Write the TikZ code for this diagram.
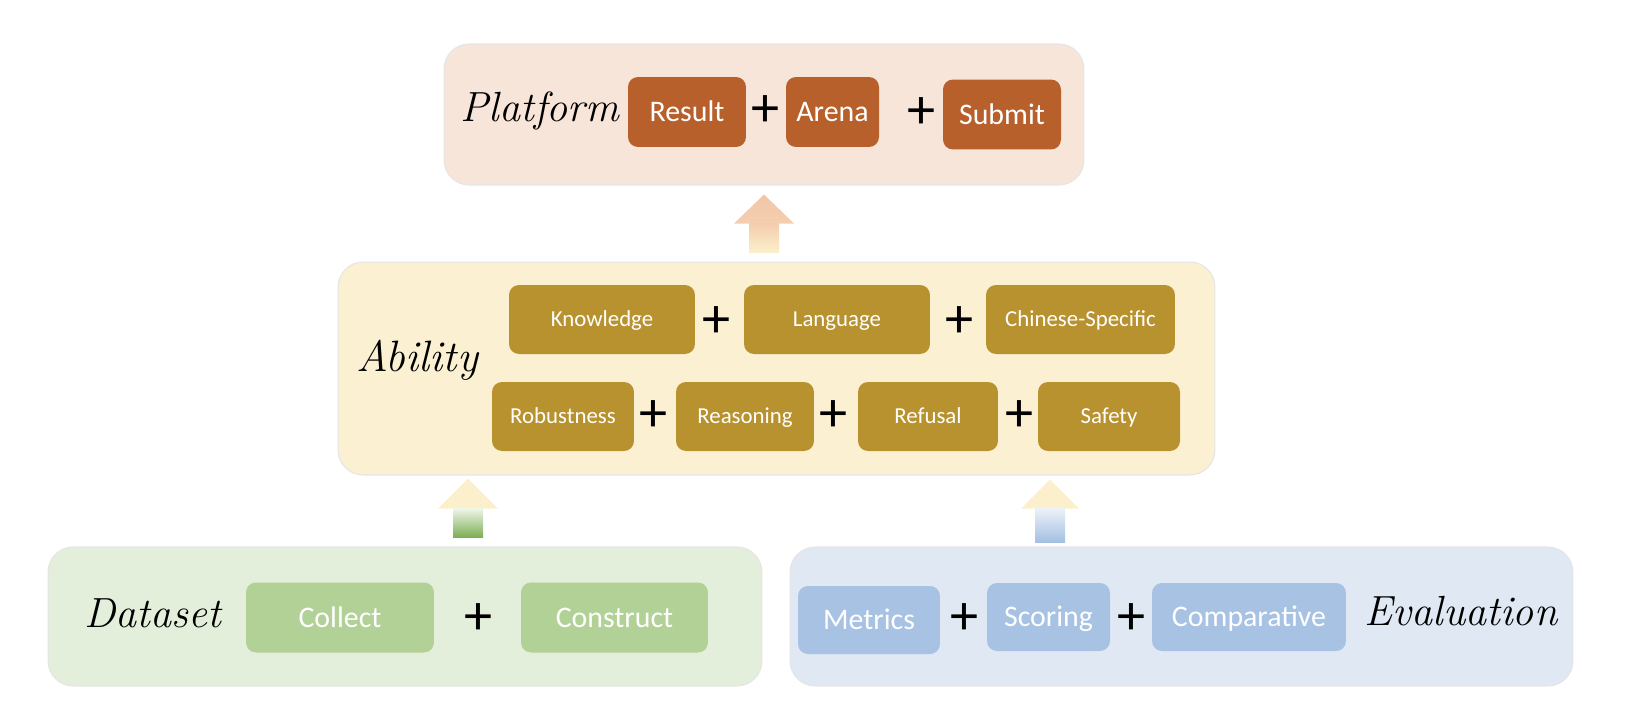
\documentclass[tikz,border=0pt]{standalone}
\usepackage{fontspec}
\setsansfont{Carlito}
\usetikzlibrary{calc}

\definecolor{platbg}{HTML}{F7E5D9}
\definecolor{platbox}{HTML}{B7602B}
\definecolor{abilbg}{HTML}{FBF0D1}
\definecolor{abilbox}{HTML}{B8922F}
\definecolor{databg}{HTML}{E3EFDA}
\definecolor{databox}{HTML}{B2D196}
\definecolor{evalbg}{HTML}{DFE8F3}
\definecolor{evalbox}{HTML}{A7C2E3}
\definecolor{peach}{HTML}{F2C6A8}
\definecolor{paleyellow}{HTML}{FCF0CC}
\definecolor{leafgreen}{HTML}{7CAD52}
\definecolor{steelblue}{HTML}{A3BFE2}

\tikzset{%
panel box/.style={
    rectangle, rounded corners=0.5cm,
    draw=black!10, line width=0.6pt,
    inner sep=0pt
  },
item box/.style={
    rectangle, rounded corners=0.2cm,
    inner sep=0pt, text=white,
    minimum height=1.4cm,
    text height=14pt, text depth=3pt,
    font=\sffamily\fontsize{17}{20}\selectfont
  },
small item/.style={
    item box, minimum height=1.38cm,
    text height=11pt, text depth=2.6pt,
    font=\sffamily\fontsize{13}{16}\selectfont
  },
plus sign/.style={
    inner sep=0pt,
    font=\sffamily\fontsize{32}{32}\selectfont
  },
title text/.style={
    inner sep=0pt,
    font=\itshape\fontsize{24}{28}\selectfont
  }
}

\begin{document}
\begin{tikzpicture}[x=0.02cm, y=-0.02cm]
\useasboundingbox (0,0) rectangle (1626,724);

% panels
\node[panel box, fill=platbg, minimum width=12.8cm, minimum height=2.82cm] (plat) at (764,114.5) {};
\node[panel box, fill=abilbg, minimum width=17.54cm, minimum height=4.26cm] (abil) at (776.5,368.5) {};
\node[panel box, fill=databg, minimum width=14.28cm, minimum height=2.78cm] (data) at (405,616.5) {};
\node[panel box, fill=evalbg, minimum width=15.66cm, minimum height=2.78cm] (eval) at (1181.5,616.5) {};

% platform
\node[title text] (platlab) at (540,111) {Platform};
\node[item box, fill=platbox, minimum width=2.36cm] (result) at (687,112) {Result};
\node[plus sign] (pp1) at (765,111) {+};
\node[item box, fill=platbox, minimum width=1.86cm] (arena) at (832.5,112) {Arena};
\node[plus sign] (pp2) at (921,113) {+};
\node[item box, fill=platbox, minimum width=2.36cm] (submit) at (1002,114.5) {Submit};

% ability
\node[title text, font=\itshape\fontsize{25}{28}\selectfont] (abillab) at (417,360) {Ability};
\node[small item, fill=abilbox, minimum width=3.72cm] (know) at (602,319.5) {Knowledge};
\node[plus sign] (ap1) at (716,322) {+};
\node[small item, fill=abilbox, minimum width=3.72cm] (lang) at (837,319.5) {Language};
\node[plus sign] (ap2) at (959,322) {+};
\node[small item, fill=abilbox, minimum width=3.78cm] (chin) at (1080.5,319.5) {Chinese-Specific};
\node[small item, fill=abilbox, minimum width=2.84cm] (robu) at (563,416.5) {Robustness};
\node[plus sign] (ap3) at (653,416) {+};
\node[small item, fill=abilbox, minimum width=2.76cm] (reas) at (745,416.5) {Reasoning};
\node[plus sign] (ap4) at (833,416) {+};
\node[small item, fill=abilbox, minimum width=2.8cm] (refu) at (928,416.5) {Refusal};
\node[plus sign] (ap5) at (1019,416) {+};
\node[small item, fill=abilbox, minimum width=2.84cm] (safe) at (1109,416.5) {Safety};

% dataset
\node[title text] (datalab) at (153,613) {Dataset};
\node[item box, fill=databox, minimum width=3.76cm] (collect) at (340,617.5) {Collect};
\node[plus sign] (dp1) at (478,619) {+};
\node[item box, fill=databox, minimum width=3.74cm] (constr) at (614.5,617.5) {Construct};

% evaluation
\node[item box, fill=evalbox, minimum width=2.84cm, minimum height=1.36cm] (metr) at (869,620) {Metrics};
\node[plus sign] (ep1) at (964,619) {+};
\node[item box, fill=evalbox, minimum width=2.46cm, minimum height=1.36cm] (scor) at (1048.5,617) {Scoring};
\node[plus sign] (ep2) at (1131,619) {+};
\node[item box, fill=evalbox, minimum width=3.88cm, minimum height=1.36cm] (comp) at (1249,617) {Comparative};
\node[title text] (evallab) at (1461,611) {Evaluation};

% block arrows
\shade[top color=peach, bottom color=peach!80!paleyellow] ($(plat.south)+(-15,38)$) -- ($(plat.south)+(-30,38)$) -- ($(plat.south)+(0,9)$) -- ($(plat.south)+(30,38)$) -- ($(plat.south)+(15,38)$) -- cycle;
\shade[top color=peach!85!paleyellow, bottom color=paleyellow] ($(plat.south)+(-15,38)$) rectangle ($(abil.north -| plat.south)+(15,-9)$);

\fill[paleyellow] ($(abil.south -| 468,0)+(-15,33)$) -- ($(abil.south -| 468,0)+(-30,33)$) -- ($(abil.south -| 468,0)+(0,3)$) -- ($(abil.south -| 468,0)+(30,33)$) -- ($(abil.south -| 468,0)+(15,33)$) -- cycle;
\shade[top color=databg!60!white, bottom color=leafgreen] ($(abil.south -| 468,0)+(-15,33)$) rectangle ($(data.north -| 468,0)+(15,-9)$);

\fill[paleyellow] ($(abil.south -| 1050,0)+(-15,33)$) -- ($(abil.south -| 1050,0)+(-29,33)$) -- ($(abil.south -| 1050,0)+(0,4)$) -- ($(abil.south -| 1050,0)+(29,33)$) -- ($(abil.south -| 1050,0)+(15,33)$) -- cycle;
\shade[top color=evalbg!60!white, bottom color=steelblue] ($(abil.south -| 1050,0)+(-15,33)$) rectangle ($(eval.north -| 1050,0)+(15,-4)$);
\end{tikzpicture}
\end{document}
